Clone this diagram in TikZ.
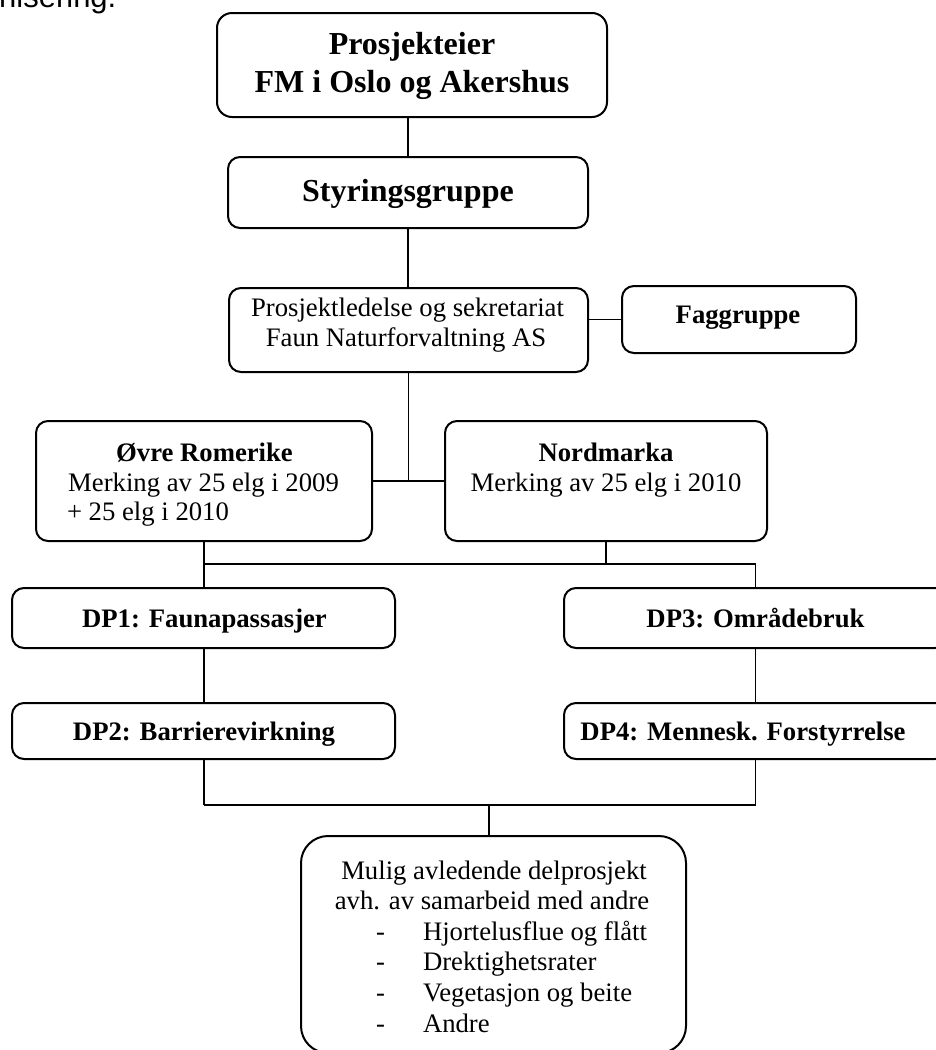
\documentclass[tikz,border=0pt]{standalone}
\usepackage{fontspec}
\setmainfont{Liberation Serif}
\newfontfamily\headsans{Liberation Sans}
\begin{document}
\begin{tikzpicture}[x=1pt,y=-1pt,
  box/.style={draw, line width=2pt, rounded corners=12pt, inner sep=0pt, outer sep=0pt},
  link/.style={line width=1.6pt},
  txt/.style={inner sep=0pt, outer sep=0pt, anchor=base, font=\fontsize{26.7}{30.6}\selectfont},
  btxt/.style={txt, font=\fontsize{26.7}{30.6}\selectfont\bfseries},
  bigtxt/.style={txt, font=\fontsize{32}{38}\selectfont\bfseries},
  ltxt/.style={txt, anchor=base west}]
\useasboundingbox (0,0) rectangle (936,1050);
\clip (0,0) rectangle (936,1050);

% cut-off heading
\node[inner sep=0pt, anchor=base west, font=\headsans\fontsize{31}{36}\selectfont] (head) at (-1,7) {nisering.};

% boxes
\node[box, rounded corners=15pt, minimum width=390pt, minimum height=104pt] (own) at (412,65) {};
\node[box, minimum width=360pt, minimum height=71pt] (styr) at (408,192.5) {};
\node[box, minimum width=359pt, minimum height=84pt] (led) at (408.5,330) {};
\node[box, minimum width=234pt, minimum height=67pt] (fag) at (739,319.5) {};
\node[box, minimum width=336pt, minimum height=120pt] (ovre) at (204,481) {};
\node[box, minimum width=322pt, minimum height=120pt] (nord) at (606,481) {};
\node[box, minimum width=383pt, minimum height=60pt] (dp1) at (203.5,618) {};
\node[box, minimum width=383pt, minimum height=56pt] (dp2) at (203.5,731) {};
\node[box, minimum width=383pt, minimum height=60pt] (dp3) at (755.5,618) {};
\node[box, minimum width=383pt, minimum height=56pt] (dp4) at (755.5,731) {};
\node[box, rounded corners=27pt, minimum width=385pt, minimum height=217pt] (mul) at (493.5,944.5) {};

% texts
\node[bigtxt] (own1) at (412,54) {Prosjekteier};
\node[bigtxt] (own2) at (412,92) {FM i Oslo og Akershus};
\node[bigtxt] (styr1) at (408,201) {Styringsgruppe};
\node[txt] (led1) at (407.5,316) {Prosjektledelse og sekretariat};
\node[txt] (led2) at (406,346) {Faun Naturforvaltning AS};
\node[btxt] (fag1) at (738,323.5) {Faggruppe};
\node[btxt] (ovre1) at (204.5,461) {Øvre Romerike};
\node[txt] (ovre2) at (203.5,491) {Merking av 25 elg i 2009};
\node[ltxt] (ovre3) at (67,520) {+ 25 elg i 2010};
\node[btxt] (nord1) at (606,461) {Nordmarka};
\node[txt] (nord2) at (606,491) {Merking av 25 elg i 2010};
\node[btxt] (dp1t) at (204.5,627) {DP1: Faunapassasjer};
\node[btxt] (dp2t) at (204,740) {DP2: Barrierevirkning};
\node[btxt] (dp3t) at (755.5,627) {DP3: Områdebruk};
\node[btxt] (dp4t) at (743,740) {DP4: Mennesk. Forstyrrelse};
\node[txt] (mul1) at (494,879) {Mulig avledende delprosjekt};
\node[txt] (mul2) at (492,909.6) {avh. av samarbeid med andre};
\foreach \y/\t [count=\i] in {940.2/Hjortelusflue og flått, 970.8/Drektighetsrater, 1001.4/Vegetasjon og beite, 1032/Andre}{
  \node[ltxt] (dash\i) at (376,\y) {-};
  \node[ltxt] (item\i) at (423,\y) {\t};
}

% connectors
\draw[link] (styr.north |- own.south) -- (styr.north);
\draw[link] (styr.south) -- (led.north -| styr.south);
\draw[link] (led.east |- fag.west) -- (fag.west);
\coordinate (j1) at (led.south |- ovre.east);
\draw[link] (led.south) -- (j1);
\draw[link] (ovre.east) -- (nord.west);
\coordinate (busA) at (0,564);
\draw[link] (ovre.south) -- (ovre.south |- busA);
\draw[link] (nord.south) -- (nord.south |- busA);
\draw[link] (ovre.south |- busA) -- (dp3.north |- busA);
\draw[link] (ovre.south |- busA) -- (dp1.north -| ovre.south);
\draw[link] (dp3.north |- busA) -- (dp3.north);
\draw[link] (dp1.south -| ovre.south) -- (dp2.north -| ovre.south);
\draw[link] (dp3.south) -- (dp4.north);
\coordinate (busB) at (0,805);
\draw[link] (dp2.south -| ovre.south) -- (ovre.south |- busB);
\draw[link] (dp4.south) -- (dp4.south |- busB);
\draw[link] (ovre.south |- busB) -- (dp4.south |- busB);
\draw[link] ([xshift=-4.5pt]mul.north |- busB) -- ([xshift=-4.5pt]mul.north);
\end{tikzpicture}
\end{document}
